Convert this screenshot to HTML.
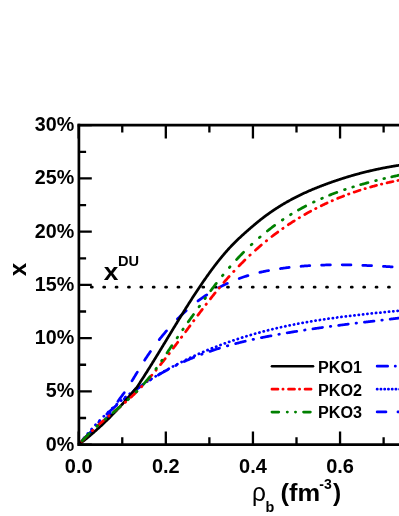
<!DOCTYPE html>
<html><head><meta charset="utf-8"><title>chart</title>
<style>html,body{margin:0;padding:0;background:#fff;}body{width:399px;height:516px;position:relative;overflow:hidden;font-family:"Liberation Sans",sans-serif;}</style>
</head><body>
<svg width="399" height="516" viewBox="0 0 399 516" style="position:absolute;left:0;top:0;will-change:transform"><rect width="399" height="516" fill="#fff"/><defs><clipPath id="cp"><rect x="78.7" y="125" width="330" height="319.6"/></clipPath></defs><rect x="90.00" y="285.73" width="3.6" height="2.7" rx="1.2" fill="#000"/><rect x="102.38" y="285.73" width="3.6" height="2.7" rx="1.2" fill="#000"/><rect x="114.76" y="285.73" width="3.6" height="2.7" rx="1.2" fill="#000"/><rect x="127.14" y="285.73" width="3.6" height="2.7" rx="1.2" fill="#000"/><rect x="139.52" y="285.73" width="3.6" height="2.7" rx="1.2" fill="#000"/><rect x="151.90" y="285.73" width="3.6" height="2.7" rx="1.2" fill="#000"/><rect x="164.28" y="285.73" width="3.6" height="2.7" rx="1.2" fill="#000"/><rect x="176.66" y="285.73" width="3.6" height="2.7" rx="1.2" fill="#000"/><rect x="189.04" y="285.73" width="3.6" height="2.7" rx="1.2" fill="#000"/><rect x="201.42" y="285.73" width="3.6" height="2.7" rx="1.2" fill="#000"/><rect x="213.80" y="285.73" width="3.6" height="2.7" rx="1.2" fill="#000"/><rect x="226.18" y="285.73" width="3.6" height="2.7" rx="1.2" fill="#000"/><rect x="238.56" y="285.73" width="3.6" height="2.7" rx="1.2" fill="#000"/><rect x="250.94" y="285.73" width="3.6" height="2.7" rx="1.2" fill="#000"/><rect x="263.32" y="285.73" width="3.6" height="2.7" rx="1.2" fill="#000"/><rect x="275.70" y="285.73" width="3.6" height="2.7" rx="1.2" fill="#000"/><rect x="288.08" y="285.73" width="3.6" height="2.7" rx="1.2" fill="#000"/><rect x="300.46" y="285.73" width="3.6" height="2.7" rx="1.2" fill="#000"/><rect x="312.84" y="285.73" width="3.6" height="2.7" rx="1.2" fill="#000"/><rect x="325.22" y="285.73" width="3.6" height="2.7" rx="1.2" fill="#000"/><rect x="337.60" y="285.73" width="3.6" height="2.7" rx="1.2" fill="#000"/><rect x="349.98" y="285.73" width="3.6" height="2.7" rx="1.2" fill="#000"/><rect x="362.36" y="285.73" width="3.6" height="2.7" rx="1.2" fill="#000"/><rect x="374.74" y="285.73" width="3.6" height="2.7" rx="1.2" fill="#000"/><rect x="387.12" y="285.73" width="3.6" height="2.7" rx="1.2" fill="#000"/><rect x="399.50" y="285.73" width="3.6" height="2.7" rx="1.2" fill="#000"/><g clip-path="url(#cp)" fill="none" stroke-width="2.75" stroke-linecap="round" stroke-linejoin="round"><path d="M82.79,439.77 L83.46,439.07 L84.16,438.37 L84.86,437.68 L85.56,437.02 L86.26,436.38 L86.96,435.76 L87.66,435.15 L88.36,434.56 L89.06,433.97 L89.76,433.40 L90.46,432.84 L91.16,432.29 L91.46,432.05 M103.35,422.01 L104.03,421.31 L104.68,420.61 L105.31,419.91 L105.92,419.21 L106.51,418.51 L107.08,417.81 L107.64,417.11 L108.17,416.41 L108.70,415.71 L109.20,415.01 L109.70,414.31 L110.18,413.61 L110.38,413.31 M117.90,401.41 L118.37,400.71 L118.86,400.01 L119.36,399.31 L119.86,398.61 L120.38,397.91 L120.89,397.21 L121.41,396.51 L121.94,395.81 L122.46,395.11 L122.98,394.41 L123.49,393.71 L124.00,393.01 L124.22,392.71 M132.03,380.81 L132.46,380.11 L132.89,379.41 L133.32,378.71 L133.75,378.01 L134.17,377.31 L134.60,376.61 L135.02,375.91 L135.44,375.21 L135.86,374.51 L136.28,373.81 L136.71,373.11 L137.13,372.41 L137.31,372.11 M144.63,360.21 L145.08,359.51 L145.53,358.81 L145.99,358.11 L146.45,357.41 L146.91,356.71 L147.38,356.01 L147.85,355.31 L148.32,354.61 L148.79,353.91 L149.27,353.21 L149.76,352.51 L150.24,351.81 L150.45,351.51 M159.29,339.61 L159.84,338.91 L160.40,338.21 L160.96,337.51 L161.53,336.81 L162.10,336.11 L162.67,335.41 L163.25,334.71 L163.83,334.01 L164.42,333.31 L165.01,332.61 L165.60,331.91 L166.20,331.21 L166.46,330.91 M177.45,319.01 L178.15,318.31 L178.85,317.62 L179.55,316.93 L180.25,316.25 L180.95,315.57 L181.65,314.90 L182.35,314.24 L183.05,313.58 L183.75,312.93 L184.45,312.29 L185.15,311.65 L185.85,311.02 L186.15,310.75 M198.05,300.96 L198.75,300.44 L199.45,299.92 L200.15,299.40 L200.85,298.90 L201.55,298.40 L202.25,297.90 L202.95,297.41 L203.65,296.92 L204.35,296.44 L205.05,295.97 L205.75,295.50 L206.45,295.03 L206.75,294.83 M218.65,287.73 L219.35,287.36 L220.05,286.99 L220.75,286.62 L221.45,286.26 L222.15,285.90 L222.85,285.55 L223.55,285.20 L224.25,284.86 L224.95,284.52 L225.65,284.18 L226.35,283.85 L227.05,283.53 L227.35,283.39 M239.25,278.48 L239.95,278.23 L240.65,277.98 L241.35,277.73 L242.05,277.49 L242.75,277.25 L243.45,277.01 L244.15,276.78 L244.85,276.55 L245.55,276.32 L246.25,276.10 L246.95,275.88 L247.65,275.66 L247.95,275.57 M259.85,272.38 L260.55,272.21 L261.25,272.06 L261.95,271.90 L262.65,271.74 L263.35,271.59 L264.05,271.44 L264.75,271.29 L265.45,271.15 L266.15,271.01 L266.85,270.87 L267.55,270.73 L268.25,270.59 L268.55,270.54 M280.45,268.57 L281.15,268.47 L281.85,268.37 L282.55,268.28 L283.25,268.18 L283.95,268.09 L284.65,268.00 L285.35,267.91 L286.05,267.82 L286.75,267.73 L287.45,267.65 L288.15,267.56 L288.85,267.48 L289.15,267.45 M301.05,266.27 L301.75,266.21 L302.45,266.15 L303.15,266.10 L303.85,266.05 L304.55,265.99 L305.25,265.94 L305.95,265.89 L306.65,265.85 L307.35,265.80 L308.05,265.75 L308.75,265.71 L309.45,265.67 L309.75,265.65 M321.65,265.10 L322.35,265.07 L323.05,265.05 L323.75,265.03 L324.45,265.01 L325.15,265.00 L325.85,264.98 L326.55,264.96 L327.25,264.95 L327.95,264.93 L328.65,264.92 L329.35,264.91 L330.05,264.90 L330.35,264.89 M342.25,264.85 L342.95,264.86 L343.65,264.87 L344.35,264.87 L345.05,264.88 L345.75,264.89 L346.45,264.90 L347.15,264.91 L347.85,264.92 L348.55,264.93 L349.25,264.95 L349.95,264.96 L350.65,264.97 L350.95,264.98 M362.85,265.34 L363.55,265.36 L364.25,265.39 L364.95,265.42 L365.65,265.45 L366.35,265.48 L367.05,265.51 L367.75,265.54 L368.45,265.57 L369.15,265.60 L369.85,265.63 L370.55,265.66 L371.25,265.69 L371.55,265.71 M383.45,266.34 L384.15,266.38 L384.85,266.43 L385.55,266.47 L386.25,266.51 L386.95,266.55 L387.65,266.59 L388.35,266.64 L389.05,266.68 L389.75,266.72 L390.45,266.77 L391.15,266.81 L391.85,266.86 L392.15,266.88" stroke="#0000ff"/><path d="M80.57,442.24 L80.74,442.04 M84.10,437.92 L84.27,437.72 M87.75,433.60 L87.92,433.40 M91.53,429.28 L91.71,429.08 M95.46,424.96 L95.64,424.76 M99.54,420.64 L99.73,420.44 M103.80,416.33 L104.00,416.13 M108.12,412.14 L108.32,411.95 M112.44,408.13 L112.64,407.95 M116.76,404.30 L116.96,404.13 M121.08,400.64 L121.28,400.48 M125.40,397.14 L125.60,396.99 M129.72,393.79 L129.92,393.64 M134.04,390.58 L134.24,390.44 M138.36,387.50 L138.56,387.37 M142.68,384.55 L142.88,384.41 M147.00,381.70 L147.20,381.57 M151.32,378.96 L151.52,378.83 M155.64,376.31 L155.84,376.19 M159.96,373.74 L160.16,373.62 M164.28,371.25 L164.48,371.13 M168.60,368.83 L168.80,368.72 M172.92,366.48 L173.12,366.38 M177.24,364.21 L177.44,364.10 M181.56,362.00 L181.76,361.90 M185.88,359.86 L186.08,359.76 M190.20,357.78 L190.40,357.69 M194.52,355.77 L194.72,355.68 M198.84,353.83 L199.04,353.74 M203.16,351.95 L203.36,351.86 M207.48,350.12 L207.68,350.04 M211.80,348.36 L212.00,348.28 M216.12,346.66 L216.32,346.58 M220.44,345.01 L220.64,344.94 M224.76,343.42 L224.96,343.35 M229.08,341.89 L229.28,341.82 M233.40,340.41 L233.60,340.34 M237.72,338.98 L237.92,338.91 M242.04,337.60 L242.24,337.53 M246.36,336.27 L246.56,336.21 M250.68,334.99 L250.88,334.93 M255.00,333.75 L255.20,333.70 M259.32,332.56 L259.52,332.51 M263.64,331.42 L263.84,331.37 M267.96,330.32 L268.16,330.27 M272.28,329.26 L272.48,329.21 M276.60,328.24 L276.80,328.19 M280.92,327.26 L281.12,327.21 M285.24,326.32 L285.44,326.27 M289.56,325.41 L289.76,325.37 M293.88,324.54 L294.08,324.50 M298.20,323.70 L298.40,323.67 M302.52,322.90 L302.72,322.86 M306.84,322.13 L307.04,322.09 M311.16,321.39 L311.36,321.35 M315.48,320.67 L315.68,320.64 M319.80,319.99 L320.00,319.96 M324.12,319.33 L324.32,319.30 M328.44,318.70 L328.64,318.67 M332.76,318.08 L332.96,318.06 M337.08,317.50 L337.28,317.47 M341.40,316.93 L341.60,316.90 M345.72,316.38 L345.92,316.36 M350.04,315.85 L350.24,315.83 M354.36,315.34 L354.56,315.32 M358.68,314.84 L358.88,314.82 M363.00,314.36 L363.20,314.34 M367.32,313.90 L367.52,313.87 M371.64,313.44 L371.84,313.42 M375.96,312.99 L376.16,312.97 M380.28,312.56 L380.48,312.54 M384.60,312.13 L384.80,312.11 M388.92,311.71 L389.12,311.69 M393.24,311.29 L393.44,311.28 M397.56,310.88 L397.76,310.86 M401.88,310.48 L402.08,310.46" stroke="#0000ff"/><path d="M84.32,439.67 L84.97,438.97 L85.60,438.27 L86.21,437.57 L86.81,436.87 L87.40,436.17 L87.98,435.47 L88.56,434.77 L89.13,434.07 L89.69,433.37 L90.25,432.67 L90.81,431.97 L91.36,431.27 L91.92,430.57 L92.31,430.07 M98.81,422.27 L99.27,421.77 M106.90,414.00 L107.60,413.34 L108.30,412.69 L109.00,412.04 L109.70,411.39 L110.40,410.75 L111.10,410.12 L111.80,409.49 L112.50,408.86 L113.20,408.23 L113.90,407.61 L114.60,406.99 L115.30,406.38 L116.00,405.77 L116.50,405.34 M124.30,398.79 L124.80,398.39 M132.65,392.25 L133.35,391.72 L134.05,391.20 L134.75,390.68 L135.45,390.16 L136.15,389.65 L136.85,389.14 L137.55,388.63 L138.25,388.13 L138.95,387.63 L139.65,387.13 L140.35,386.63 L141.05,386.14 L141.75,385.65 L142.25,385.31 M150.05,380.10 L150.55,379.78 M158.40,374.95 L159.10,374.53 L159.80,374.12 L160.50,373.72 L161.20,373.31 L161.90,372.91 L162.60,372.51 L163.30,372.12 L164.00,371.72 L164.70,371.33 L165.40,370.95 L166.10,370.56 L166.80,370.18 L167.50,369.80 L168.00,369.53 M175.80,365.50 L176.30,365.25 M184.15,361.54 L184.85,361.22 L185.55,360.91 L186.25,360.60 L186.95,360.29 L187.65,359.98 L188.35,359.67 L189.05,359.37 L189.75,359.07 L190.45,358.77 L191.15,358.48 L191.85,358.18 L192.55,357.89 L193.25,357.60 L193.75,357.40 M201.55,354.33 L202.05,354.14 M209.90,351.33 L210.60,351.09 L211.30,350.85 L212.00,350.62 L212.70,350.38 L213.40,350.15 L214.10,349.92 L214.80,349.69 L215.50,349.46 L216.20,349.24 L216.90,349.01 L217.60,348.79 L218.30,348.57 L219.00,348.35 L219.50,348.20 M227.30,345.89 L227.80,345.74 M235.65,343.61 L236.35,343.43 L237.05,343.25 L237.75,343.07 L238.45,342.89 L239.15,342.72 L239.85,342.54 L240.55,342.37 L241.25,342.20 L241.95,342.03 L242.65,341.85 L243.35,341.69 L244.05,341.52 L244.75,341.35 L245.25,341.23 M253.05,339.46 L253.55,339.35 M261.40,337.69 L262.10,337.54 L262.80,337.40 L263.50,337.26 L264.20,337.12 L264.90,336.98 L265.60,336.84 L266.30,336.70 L267.00,336.56 L267.70,336.43 L268.40,336.29 L269.10,336.15 L269.80,336.02 L270.50,335.89 L271.00,335.79 M278.80,334.34 L279.30,334.25 M287.15,332.88 L287.85,332.76 L288.55,332.65 L289.25,332.53 L289.95,332.41 L290.65,332.29 L291.35,332.18 L292.05,332.06 L292.75,331.95 L293.45,331.83 L294.15,331.72 L294.85,331.61 L295.55,331.49 L296.25,331.38 L296.75,331.30 M304.55,330.09 L305.05,330.01 M312.90,328.85 L313.60,328.75 L314.30,328.65 L315.00,328.55 L315.70,328.45 L316.40,328.35 L317.10,328.25 L317.80,328.15 L318.50,328.05 L319.20,327.95 L319.90,327.86 L320.60,327.76 L321.30,327.66 L322.00,327.56 L322.50,327.50 M330.30,326.44 L330.80,326.38 M338.65,325.36 L339.35,325.27 L340.05,325.18 L340.75,325.09 L341.45,325.00 L342.15,324.91 L342.85,324.83 L343.55,324.74 L344.25,324.65 L344.95,324.56 L345.65,324.48 L346.35,324.39 L347.05,324.30 L347.75,324.21 L348.25,324.15 M356.05,323.20 L356.55,323.14 M364.40,322.19 L365.10,322.11 L365.80,322.02 L366.50,321.94 L367.20,321.86 L367.90,321.77 L368.60,321.69 L369.30,321.61 L370.00,321.52 L370.70,321.44 L371.40,321.36 L372.10,321.27 L372.80,321.19 L373.50,321.11 L374.00,321.05 M381.80,320.12 L382.30,320.06 M390.15,319.12 L390.85,319.04 L391.55,318.95 L392.25,318.87 L392.95,318.78 L393.65,318.70 L394.35,318.61 L395.05,318.53 L395.75,318.44 L396.45,318.36 L397.15,318.27 L397.85,318.19 L398.55,318.10 L399.25,318.02 L399.75,317.95" stroke="#0000ff"/><path d="M78.70,444.60 L79.20,444.22 L79.70,443.84 L80.20,443.46 L80.70,443.08 L81.20,442.69 L81.70,442.30 L82.20,441.91 L82.70,441.52 L83.20,441.13 L83.70,440.73 L84.20,440.34 L84.70,439.94 L85.20,439.54 L85.70,439.13 L86.20,438.73 L86.70,438.32 L87.20,437.91 L87.70,437.50 L88.20,437.08 L88.70,436.67 L89.20,436.25 L89.70,435.83 L90.20,435.41 L90.70,434.99 L91.20,434.56 L91.70,434.14 L92.20,433.71 L92.70,433.27 L93.20,432.84 L93.70,432.41 L94.20,431.97 L94.70,431.53 L95.20,431.09 L95.70,430.65 L96.20,430.20 L96.70,429.75 L97.20,429.30 L97.70,428.85 L98.20,428.40 L98.70,427.94 L99.20,427.49 L99.70,427.03 L100.20,426.57 L100.70,426.10 L101.20,425.64 L101.70,425.17 L102.20,424.70 L102.70,424.23 L103.20,423.76 L103.70,423.28 L104.20,422.80 L104.70,422.32 L105.20,421.84 L105.70,421.36 L106.20,420.87 L106.70,420.39 L107.20,419.90 L107.70,419.40 L108.20,418.91 L108.70,418.42 L109.20,417.92 L109.70,417.42 L110.20,416.92 L110.70,416.41 L111.20,415.91 L111.70,415.40 L112.20,414.89 L112.70,414.38 L113.20,413.87 L113.70,413.35 L114.20,412.83 L114.70,412.31 L115.20,411.79 L115.70,411.27 L116.20,410.74 L116.70,410.21 L117.20,409.68 L117.70,409.15 L118.20,408.62 L118.70,408.08 L119.20,407.54 L119.70,407.00 L120.20,406.46 L120.70,405.92 L121.20,405.37 L121.70,404.82 L122.20,404.27 L122.70,403.72 L123.20,403.17 L123.70,402.61 L124.20,402.05 L124.70,401.49 L125.20,400.93 L125.70,400.36 L126.20,399.80 L126.70,399.23 L127.20,398.66 L127.70,398.08 L128.20,397.51 L128.70,396.93 L129.20,396.35 L129.70,395.77 L130.20,395.19 L130.70,394.61 L131.20,394.02 L131.70,393.43 L132.20,392.84 L132.70,392.25 L133.20,391.65 L133.70,391.05 L134.20,390.45 L134.70,389.85 L135.20,389.25 L135.70,388.64 L136.30,388.20 L136.80,387.45 L137.30,386.69 L137.80,385.93 L138.30,385.17 L138.80,384.41 L139.30,383.65 L139.80,382.88 L140.30,382.11 L140.80,381.34 L141.30,380.57 L141.80,379.79 L142.30,379.02 L142.80,378.24 L143.30,377.46 L143.80,376.67 L144.30,375.89 L144.80,375.10 L145.30,374.32 L145.80,373.53 L146.30,372.74 L146.80,371.94 L147.30,371.15 L147.80,370.35 L148.30,369.56 L148.80,368.76 L149.30,367.96 L149.80,367.16 L150.30,366.35 L150.80,365.55 L151.30,364.74 L151.80,363.94 L152.30,363.13 L152.80,362.32 L153.30,361.51 L153.80,360.70 L154.30,359.89 L154.80,359.08 L155.30,358.26 L155.80,357.45 L156.30,356.63 L156.80,355.82 L157.30,355.00 L157.80,354.18 L158.30,353.36 L158.80,352.54 L159.30,351.72 L159.80,350.90 L160.30,350.08 L160.80,349.26 L161.30,348.44 L161.80,347.61 L162.30,346.79 L162.80,345.97 L163.30,345.14 L163.80,344.32 L164.30,343.49 L164.80,342.67 L165.30,341.84 L165.80,341.02 L166.30,340.19 L166.80,339.37 L167.30,338.54 L167.80,337.72 L168.30,336.89 L168.80,336.07 L169.30,335.24 L169.80,334.42 L170.30,333.59 L170.80,332.77 L171.30,331.95 L171.80,331.12 L172.30,330.30 L172.80,329.48 L173.30,328.65 L173.80,327.83 L174.30,327.01 L174.80,326.19 L175.30,325.37 L175.80,324.55 L176.30,323.73 L176.80,322.91 L177.30,322.09 L177.80,321.28 L178.30,320.46 L178.80,319.65 L179.30,318.83 L179.80,318.02 L180.30,317.21 L180.80,316.39 L181.30,315.58 L181.80,314.77 L182.30,313.97 L182.80,313.16 L183.30,312.35 L183.80,311.55 L184.30,310.75 L184.80,309.94 L185.30,309.14 L185.80,308.34 L186.30,307.55 L186.80,306.75 L187.30,305.95 L187.80,305.16 L188.30,304.37 L188.80,303.58 L189.30,302.79 L189.80,302.00 L190.30,301.22 L190.80,300.44 L191.30,299.65 L191.80,298.87 L192.30,298.10 L192.80,297.32 L193.30,296.55 L193.80,295.77 L194.30,295.01 L194.80,294.24 L195.30,293.47 L195.80,292.71 L196.30,291.95 L196.80,291.19 L197.30,290.43 L197.80,289.68 L198.30,288.92 L198.80,288.18 L199.30,287.43 L199.80,286.68 L200.30,285.94 L200.80,285.20 L201.30,284.46 L201.80,283.73 L202.30,283.00 L202.80,282.27 L203.30,281.54 L203.80,280.82 L204.30,280.10 L204.80,279.38 L205.30,278.66 L205.80,277.95 L206.30,277.24 L206.80,276.53 L207.30,275.83 L207.80,275.13 L208.30,274.43 L208.80,273.73 L209.30,273.04 L209.80,272.35 L210.30,271.67 L210.80,270.98 L211.30,270.30 L211.80,269.63 L212.30,268.95 L212.80,268.28 L213.30,267.62 L213.80,266.95 L214.30,266.29 L214.80,265.64 L215.30,264.98 L215.80,264.33 L216.30,263.69 L216.80,263.04 L217.30,262.41 L217.80,261.77 L218.30,261.14 L218.80,260.51 L219.30,259.88 L219.80,259.26 L220.30,258.64 L220.80,258.03 L221.30,257.42 L221.80,256.81 L222.30,256.21 L222.80,255.61 L223.30,255.02 L223.80,254.43 L224.30,253.84 L224.80,253.26 L225.30,252.68 L225.80,252.10 L226.30,251.53 L226.80,250.97 L227.30,250.40 L227.80,249.85 L228.30,249.29 L228.80,248.74 L229.30,248.19 L229.80,247.65 L230.30,247.12 L230.80,246.58 L231.30,246.05 L231.80,245.53 L232.30,245.01 L232.80,244.49 L233.30,243.98 L233.80,243.47 L234.30,242.96 L234.80,242.46 L235.30,241.96 L235.80,241.47 L236.30,240.98 L236.80,240.49 L237.30,240.00 L237.80,239.52 L238.30,239.04 L238.80,238.57 L239.30,238.10 L239.80,237.63 L240.30,237.16 L240.80,236.69 L241.30,236.23 L241.80,235.77 L242.30,235.31 L242.80,234.86 L243.30,234.40 L243.80,233.95 L244.30,233.50 L244.80,233.06 L245.30,232.61 L245.80,232.17 L246.30,231.73 L246.80,231.29 L247.30,230.85 L247.80,230.41 L248.30,229.97 L248.80,229.54 L249.30,229.11 L249.80,228.67 L250.30,228.24 L250.80,227.81 L251.30,227.38 L251.80,226.95 L252.30,226.53 L252.80,226.10 L253.30,225.68 L253.80,225.25 L254.30,224.83 L254.80,224.41 L255.30,224.00 L255.80,223.58 L256.30,223.17 L256.80,222.75 L257.30,222.34 L257.80,221.93 L258.30,221.53 L258.80,221.12 L259.30,220.72 L259.80,220.32 L260.30,219.93 L260.80,219.53 L261.30,219.14 L261.80,218.75 L262.30,218.36 L262.80,217.98 L263.30,217.59 L263.80,217.21 L264.30,216.84 L264.80,216.46 L265.30,216.09 L265.80,215.72 L266.30,215.35 L266.80,214.98 L267.30,214.62 L267.80,214.26 L268.30,213.90 L268.80,213.54 L269.30,213.18 L269.80,212.83 L270.30,212.48 L270.80,212.13 L271.30,211.79 L271.80,211.44 L272.30,211.10 L272.80,210.76 L273.30,210.42 L273.80,210.09 L274.30,209.75 L274.80,209.42 L275.30,209.09 L275.80,208.76 L276.30,208.44 L276.80,208.12 L277.30,207.79 L277.80,207.47 L278.30,207.16 L278.80,206.84 L279.30,206.53 L279.80,206.22 L280.30,205.91 L280.80,205.60 L281.30,205.30 L281.80,204.99 L282.30,204.69 L282.80,204.39 L283.30,204.09 L283.80,203.80 L284.30,203.50 L284.80,203.21 L285.30,202.92 L285.80,202.63 L286.30,202.34 L286.80,202.06 L287.30,201.77 L287.80,201.49 L288.30,201.21 L288.80,200.93 L289.30,200.66 L289.80,200.38 L290.30,200.11 L290.80,199.84 L291.30,199.57 L291.80,199.30 L292.30,199.03 L292.80,198.77 L293.30,198.50 L293.80,198.24 L294.30,197.98 L294.80,197.72 L295.30,197.47 L295.80,197.21 L296.30,196.96 L296.80,196.70 L297.30,196.45 L297.80,196.20 L298.30,195.96 L298.80,195.71 L299.30,195.46 L299.80,195.22 L300.30,194.98 L300.80,194.74 L301.30,194.50 L301.80,194.26 L302.30,194.02 L302.80,193.79 L303.30,193.56 L303.80,193.32 L304.30,193.09 L304.80,192.86 L305.30,192.63 L305.80,192.41 L306.30,192.18 L306.80,191.96 L307.30,191.73 L307.80,191.51 L308.30,191.29 L308.80,191.07 L309.30,190.85 L309.80,190.63 L310.30,190.42 L310.80,190.20 L311.30,189.99 L311.80,189.78 L312.30,189.56 L312.80,189.35 L313.30,189.15 L313.80,188.94 L314.30,188.73 L314.80,188.52 L315.30,188.32 L315.80,188.11 L316.30,187.91 L316.80,187.71 L317.30,187.51 L317.80,187.31 L318.30,187.11 L318.80,186.91 L319.30,186.72 L319.80,186.52 L320.30,186.32 L320.80,186.13 L321.30,185.94 L321.80,185.74 L322.30,185.55 L322.80,185.36 L323.30,185.17 L323.80,184.98 L324.30,184.79 L324.80,184.61 L325.30,184.42 L325.80,184.24 L326.30,184.05 L326.80,183.87 L327.30,183.68 L327.80,183.50 L328.30,183.32 L328.80,183.14 L329.30,182.96 L329.80,182.78 L330.30,182.60 L330.80,182.42 L331.30,182.24 L331.80,182.07 L332.30,181.89 L332.80,181.72 L333.30,181.54 L333.80,181.37 L334.30,181.20 L334.80,181.03 L335.30,180.86 L335.80,180.69 L336.30,180.52 L336.80,180.35 L337.30,180.18 L337.80,180.01 L338.30,179.85 L338.80,179.68 L339.30,179.52 L339.80,179.35 L340.30,179.19 L340.80,179.03 L341.30,178.87 L341.80,178.71 L342.30,178.55 L342.80,178.39 L343.30,178.23 L343.80,178.07 L344.30,177.91 L344.80,177.76 L345.30,177.60 L345.80,177.45 L346.30,177.30 L346.80,177.14 L347.30,176.99 L347.80,176.84 L348.30,176.69 L348.80,176.54 L349.30,176.39 L349.80,176.24 L350.30,176.09 L350.80,175.95 L351.30,175.80 L351.80,175.66 L352.30,175.51 L352.80,175.37 L353.30,175.22 L353.80,175.08 L354.30,174.94 L354.80,174.80 L355.30,174.66 L355.80,174.52 L356.30,174.38 L356.80,174.25 L357.30,174.11 L357.80,173.97 L358.30,173.84 L358.80,173.70 L359.30,173.57 L359.80,173.44 L360.30,173.30 L360.80,173.17 L361.30,173.04 L361.80,172.91 L362.30,172.78 L362.80,172.65 L363.30,172.53 L363.80,172.40 L364.30,172.27 L364.80,172.15 L365.30,172.02 L365.80,171.90 L366.30,171.77 L366.80,171.65 L367.30,171.53 L367.80,171.41 L368.30,171.29 L368.80,171.17 L369.30,171.05 L369.80,170.93 L370.30,170.81 L370.80,170.70 L371.30,170.58 L371.80,170.47 L372.30,170.35 L372.80,170.24 L373.30,170.13 L373.80,170.01 L374.30,169.90 L374.80,169.79 L375.30,169.68 L375.80,169.57 L376.30,169.47 L376.80,169.36 L377.30,169.25 L377.80,169.14 L378.30,169.04 L378.80,168.93 L379.30,168.83 L379.80,168.73 L380.30,168.62 L380.80,168.52 L381.30,168.42 L381.80,168.32 L382.30,168.22 L382.80,168.12 L383.30,168.02 L383.80,167.93 L384.30,167.83 L384.80,167.73 L385.30,167.64 L385.80,167.55 L386.30,167.45 L386.80,167.36 L387.30,167.27 L387.80,167.17 L388.30,167.08 L388.80,166.99 L389.30,166.90 L389.80,166.82 L390.30,166.73 L390.80,166.64 L391.30,166.55 L391.80,166.47 L392.30,166.38 L392.80,166.30 L393.30,166.21 L393.80,166.13 L394.30,166.05 L394.80,165.97 L395.30,165.89 L395.80,165.81 L396.30,165.73 L396.80,165.65 L397.30,165.57 L397.80,165.49 L398.30,165.42 L398.80,165.34 L399.30,165.27 L399.80,165.19 L400.30,165.12 L400.80,165.05 L401.30,164.97 L401.80,164.90 L402.30,164.83 L402.80,164.76 L403.30,164.69 L403.80,164.62" stroke="#000000" stroke-width="2.75"/><path d="M81.73,441.30 L82.38,440.60 L83.05,439.90 L83.72,439.20 L84.39,438.50 L85.07,437.80 L85.76,437.10 L86.45,436.40 L87.14,435.70 L87.44,435.40 M92.34,430.64 L92.74,430.27 M97.99,425.44 L98.69,424.81 L99.39,424.19 L100.09,423.57 L100.79,422.95 L101.49,422.34 L102.19,421.73 L102.89,421.12 L103.59,420.52 L103.89,420.26 M108.79,416.10 L109.19,415.77 M114.44,411.41 L115.14,410.83 L115.84,410.25 L116.54,409.67 L117.24,409.09 L117.94,408.51 L118.64,407.93 L119.34,407.34 L120.04,406.76 L120.34,406.51 M125.24,402.33 L125.64,401.99 M130.89,397.29 L131.59,396.64 L132.29,395.98 L132.99,395.32 L133.69,394.65 L134.39,393.98 L135.09,393.29 L135.79,392.60 L136.49,391.91 L136.79,391.61 M141.54,386.71 L141.91,386.31 M146.70,381.06 L147.32,380.36 L147.94,379.66 L148.56,378.96 L149.17,378.26 L149.78,377.56 L150.38,376.86 L150.98,376.16 L151.58,375.46 L151.84,375.16 M155.94,370.26 L156.27,369.86 M160.53,364.61 L161.09,363.91 L161.65,363.21 L162.20,362.51 L162.76,361.81 L163.31,361.11 L163.86,360.41 L164.41,359.71 L164.96,359.01 L165.19,358.71 M168.99,353.81 L169.29,353.41 M173.29,348.16 L173.82,347.46 L174.35,346.76 L174.88,346.06 L175.41,345.36 L175.93,344.66 L176.46,343.96 L176.98,343.26 L177.51,342.56 L177.73,342.26 M181.39,337.36 L181.69,336.96 M185.59,331.71 L186.11,331.01 L186.63,330.31 L187.15,329.61 L187.67,328.91 L188.19,328.21 L188.70,327.51 L189.22,326.81 L189.74,326.11 L189.97,325.81 M193.61,320.91 L193.91,320.51 M197.83,315.26 L198.36,314.56 L198.88,313.86 L199.41,313.16 L199.94,312.46 L200.47,311.76 L201.00,311.06 L201.53,310.36 L202.06,309.66 L202.29,309.36 M206.03,304.46 L206.34,304.06 M210.43,298.81 L210.98,298.11 L211.53,297.41 L212.09,296.71 L212.65,296.01 L213.20,295.31 L213.76,294.61 L214.33,293.91 L214.89,293.21 L215.13,292.91 M219.15,288.01 L219.48,287.61 M223.94,282.36 L224.55,281.66 L225.16,280.96 L225.77,280.26 L226.39,279.56 L227.00,278.86 L227.62,278.16 L228.25,277.46 L228.88,276.76 L229.15,276.46 M233.64,271.56 L234.02,271.16 M239.04,265.91 L239.72,265.21 L240.41,264.51 L241.10,263.81 L241.80,263.11 L242.50,262.41 L243.20,261.72 L243.90,261.03 L244.60,260.34 L244.90,260.05 M249.80,255.36 L250.20,254.99 M255.45,250.20 L256.15,249.57 L256.85,248.95 L257.55,248.34 L258.25,247.73 L258.95,247.12 L259.65,246.51 L260.35,245.91 L261.05,245.32 L261.35,245.06 M266.25,240.99 L266.65,240.67 M271.90,236.52 L272.60,235.98 L273.30,235.44 L274.00,234.91 L274.70,234.38 L275.40,233.85 L276.10,233.33 L276.80,232.81 L277.50,232.29 L277.80,232.07 M282.70,228.56 L283.10,228.28 M288.35,224.69 L289.05,224.22 L289.75,223.76 L290.45,223.30 L291.15,222.85 L291.85,222.39 L292.55,221.94 L293.25,221.49 L293.95,221.05 L294.25,220.86 M299.15,217.83 L299.55,217.59 M304.80,214.51 L305.50,214.11 L306.20,213.71 L306.90,213.31 L307.60,212.92 L308.30,212.53 L309.00,212.14 L309.70,211.76 L310.40,211.38 L310.70,211.22 M315.60,208.62 L316.00,208.41 M321.25,205.78 L321.95,205.44 L322.65,205.10 L323.35,204.76 L324.05,204.43 L324.75,204.10 L325.45,203.77 L326.15,203.44 L326.85,203.12 L327.15,202.98 M332.05,200.78 L332.45,200.60 M337.70,198.38 L338.40,198.09 L339.10,197.80 L339.80,197.52 L340.50,197.24 L341.20,196.96 L341.90,196.68 L342.60,196.41 L343.30,196.13 L343.60,196.02 M348.50,194.17 L348.90,194.03 M354.15,192.17 L354.85,191.93 L355.55,191.69 L356.25,191.45 L356.95,191.22 L357.65,190.99 L358.35,190.76 L359.05,190.53 L359.75,190.30 L360.05,190.21 M364.95,188.68 L365.35,188.56 M370.60,187.03 L371.30,186.83 L372.00,186.63 L372.70,186.44 L373.40,186.25 L374.10,186.06 L374.80,185.87 L375.50,185.68 L376.20,185.50 L376.50,185.42 M381.40,184.17 L381.80,184.07 M387.05,182.82 L387.75,182.66 L388.45,182.50 L389.15,182.35 L389.85,182.19 L390.55,182.04 L391.25,181.89 L391.95,181.73 L392.65,181.58 L392.95,181.52 M397.85,180.51 L398.25,180.43 M403.50,179.43 L403.70,179.39" stroke="#ff0000"/><path d="M82.10,440.83 L82.75,440.13 L83.41,439.43 L84.08,438.73 L84.75,438.03 L85.42,437.33 L86.11,436.63 L86.80,435.93 L87.50,435.23 L88.20,434.53 L88.90,433.84 L89.20,433.55 M96.90,426.36 L97.60,425.73 M105.10,419.24 L105.80,418.64 M113.00,412.61 L113.70,412.03 L114.40,411.44 L115.10,410.86 L115.80,410.27 L116.50,409.68 L117.20,409.10 L117.90,408.50 L118.60,407.91 L119.30,407.32 L120.00,406.72 L120.30,406.47 M128.00,399.70 L128.70,399.06 L128.70,399.06 M136.20,391.91 L136.89,391.21 L136.89,391.21 M143.68,384.01 L144.31,383.31 L144.93,382.61 L145.54,381.91 L146.15,381.21 L146.75,380.51 L147.34,379.81 L147.93,379.11 L148.52,378.41 L149.09,377.71 L149.67,377.01 L149.91,376.71 M155.85,369.01 L156.36,368.31 L156.36,368.31 M161.65,360.81 L162.13,360.11 L162.13,360.11 M167.00,352.91 L167.47,352.21 L167.94,351.51 L168.41,350.81 L168.88,350.11 L169.35,349.41 L169.82,348.71 L170.29,348.01 L170.76,347.31 L171.23,346.61 L171.69,345.91 L171.90,345.61 M177.09,337.91 L177.56,337.21 L177.56,337.21 M182.71,329.71 L183.20,329.01 L183.20,329.01 M188.28,321.81 L188.78,321.11 L189.28,320.41 L189.78,319.71 L190.28,319.01 L190.78,318.31 L191.29,317.61 L191.79,316.91 L192.29,316.21 L192.80,315.51 L193.30,314.81 L193.52,314.51 M199.06,306.81 L199.56,306.11 M204.96,298.61 L205.46,297.91 M210.73,290.71 L211.26,290.01 L211.78,289.31 L212.30,288.61 L212.83,287.91 L213.36,287.21 L213.89,286.51 L214.43,285.81 L214.97,285.11 L215.51,284.41 L216.05,283.71 L216.28,283.41 M222.44,275.71 L223.01,275.01 M229.38,267.51 L229.99,266.81 M236.51,259.61 L237.17,258.91 L237.83,258.21 L238.49,257.51 L239.16,256.81 L239.83,256.11 L240.50,255.41 L241.18,254.71 L241.87,254.01 L242.56,253.31 L243.25,252.61 L243.55,252.31 M251.25,244.86 L251.95,244.21 M259.45,237.52 L260.15,236.93 M267.35,231.01 L268.05,230.45 L268.75,229.90 L269.45,229.36 L270.15,228.82 L270.85,228.28 L271.55,227.75 L272.25,227.22 L272.95,226.69 L273.65,226.17 L274.35,225.65 L274.65,225.43 M282.35,220.00 L283.05,219.53 M290.55,214.70 L291.25,214.26 M298.45,210.01 L299.15,209.62 L299.85,209.23 L300.55,208.84 L301.25,208.45 L301.95,208.07 L302.65,207.69 L303.35,207.31 L304.05,206.94 L304.75,206.57 L305.45,206.20 L305.75,206.04 M313.45,202.19 L314.15,201.86 M321.65,198.45 L322.35,198.14 M329.55,195.16 L330.25,194.88 L330.95,194.61 L331.65,194.33 L332.35,194.06 L333.05,193.79 L333.75,193.53 L334.45,193.26 L335.15,193.00 L335.85,192.74 L336.55,192.48 L336.85,192.37 M344.55,189.67 L345.25,189.43 M352.75,187.03 L353.45,186.81 M360.65,184.69 L361.35,184.49 L362.05,184.29 L362.75,184.09 L363.45,183.90 L364.15,183.70 L364.85,183.51 L365.55,183.32 L366.25,183.13 L366.95,182.94 L367.65,182.75 L367.95,182.67 M375.65,180.68 L376.35,180.51 M383.85,178.68 L384.55,178.52 M391.75,176.84 L392.45,176.68 L393.15,176.52 L393.85,176.36 L394.55,176.20 L395.25,176.04 L395.95,175.89 L396.65,175.73 L397.35,175.57 L398.05,175.41 L398.75,175.26 L399.05,175.19" stroke="#008000"/></g><g stroke="#000" fill="none" stroke-linecap="butt"><path d="M78.90,123.85 V445.95" stroke-width="2.7"/><path d="M77.55,125.20 H399" stroke-width="2.7"/><path d="M77.55,444.60 H399" stroke-width="2.7"/><path d="M78.70,444.60 v-13.2 M78.70,125.20 v13.2 M122.26,444.60 v-7.4 M122.26,125.20 v7.4 M165.82,444.60 v-13.2 M165.82,125.20 v13.2 M209.38,444.60 v-7.4 M209.38,125.20 v7.4 M252.94,444.60 v-13.2 M252.94,125.20 v13.2 M296.50,444.60 v-7.4 M296.50,125.20 v7.4 M340.06,444.60 v-13.2 M340.06,125.20 v13.2 M383.62,444.60 v-7.4 M383.62,125.20 v7.4 M78.70,444.60 h13.1 M78.70,417.98 h7.4 M78.70,391.37 h13.1 M78.70,364.75 h7.4 M78.70,338.13 h13.1 M78.70,311.52 h7.4 M78.70,284.90 h13.1 M78.70,258.28 h7.4 M78.70,231.67 h13.1 M78.70,205.05 h7.4 M78.70,178.43 h13.1 M78.70,151.82 h7.4 M78.70,125.20 h13.1" stroke-width="2.3"/></g><path d="M271.95,366.3 H313.05" stroke="#000" stroke-width="2.6" fill="none" stroke-linecap="round"/><path d="M271.95,389.2 H277.95 M282.90,389.2 H283.10 M288.50,389.2 H294.50 M299.45,389.2 H299.65 M305.05,389.2 H311.05" stroke="#f00" stroke-width="2.75" fill="none" stroke-linecap="round"/><path d="M271.95,412.1 H278.75 M287.20,412.1 H287.40 M295.40,412.1 H295.60 M303.55,412.1 H310.35" stroke="#008000" stroke-width="2.75" fill="none" stroke-linecap="round"/><path d="M377.15,366.2 H387.65 M395.20,366.2 H395.40 M402.25,366.2 H402.45" stroke="#00f" stroke-width="2.75" fill="none" stroke-linecap="round"/><path d="M377.10,389.2 H377.30 M380.85,389.2 H381.05 M384.60,389.2 H384.80 M388.35,389.2 H388.55 M392.10,389.2 H392.30 M395.85,389.2 H396.05 M399.60,389.2 H399.80 M402.47,389.2 H402.68" stroke="#00f" stroke-width="2.75" fill="none" stroke-linecap="round"/><path d="M377.15,411.9 H385.95 M397.95,411.9 H401.75" stroke="#00f" stroke-width="2.75" fill="none" stroke-linecap="round"/><g font-family="Liberation Sans, sans-serif" font-weight="bold" fill="#000"><text transform="translate(74.30,450.60) scale(0.985,1.05)" font-size="20" text-anchor="end" >0%</text><text transform="translate(74.30,397.37) scale(0.985,1.05)" font-size="20" text-anchor="end" >5%</text><text transform="translate(74.30,344.13) scale(0.985,1.05)" font-size="20" text-anchor="end" >10%</text><text transform="translate(74.30,290.90) scale(0.985,1.05)" font-size="20" text-anchor="end" >15%</text><text transform="translate(74.30,237.67) scale(0.985,1.05)" font-size="20" text-anchor="end" >20%</text><text transform="translate(74.30,184.43) scale(0.985,1.05)" font-size="20" text-anchor="end" >25%</text><text transform="translate(74.30,131.20) scale(0.985,1.05)" font-size="20" text-anchor="end" >30%</text><text transform="translate(78.70,473.40) scale(1.0,1.045)" font-size="20" text-anchor="middle" >0.0</text><text transform="translate(165.82,473.40) scale(1.0,1.045)" font-size="20" text-anchor="middle" >0.2</text><text transform="translate(252.94,473.40) scale(1.0,1.045)" font-size="20" text-anchor="middle" >0.4</text><text transform="translate(340.06,473.40) scale(1.0,1.045)" font-size="20" text-anchor="middle" >0.6</text><text transform="translate(318.00,372.80) scale(1.0,1.035)" font-size="16.2" text-anchor="start" >PKO1</text><text transform="translate(318.00,395.60) scale(1.0,1.035)" font-size="16.2" text-anchor="start" >PKO2</text><text transform="translate(318.00,418.40) scale(1.0,1.035)" font-size="16.2" text-anchor="start" >PKO3</text><text transform="translate(103.80,280.20) scale(1.0,0.925)" font-size="26.3" text-anchor="start" >x</text><text transform="translate(117.90,265.50) scale(1.0,1.0)" font-size="14.6" text-anchor="start" >DU</text><text transform="translate(25.8,269.5) rotate(-90)" font-size="24" text-anchor="middle">x</text><text transform="translate(251.90,500.80) scale(1.0,1.02)" font-size="24.5" text-anchor="start" font-weight="normal">ρ</text><text transform="translate(265.50,512.10) scale(1.0,1.0)" font-size="14.4" text-anchor="start" >b</text><text transform="translate(280.60,500.80) scale(1.04,1.0)" font-size="24.5" text-anchor="start" >(fm</text><text transform="translate(319.30,489.00) scale(1.0,1.0)" font-size="14" text-anchor="start" >-3</text><text transform="translate(332.90,500.80) scale(1.0,1.0)" font-size="24.5" text-anchor="start" >)</text></g></svg>
</body></html>
